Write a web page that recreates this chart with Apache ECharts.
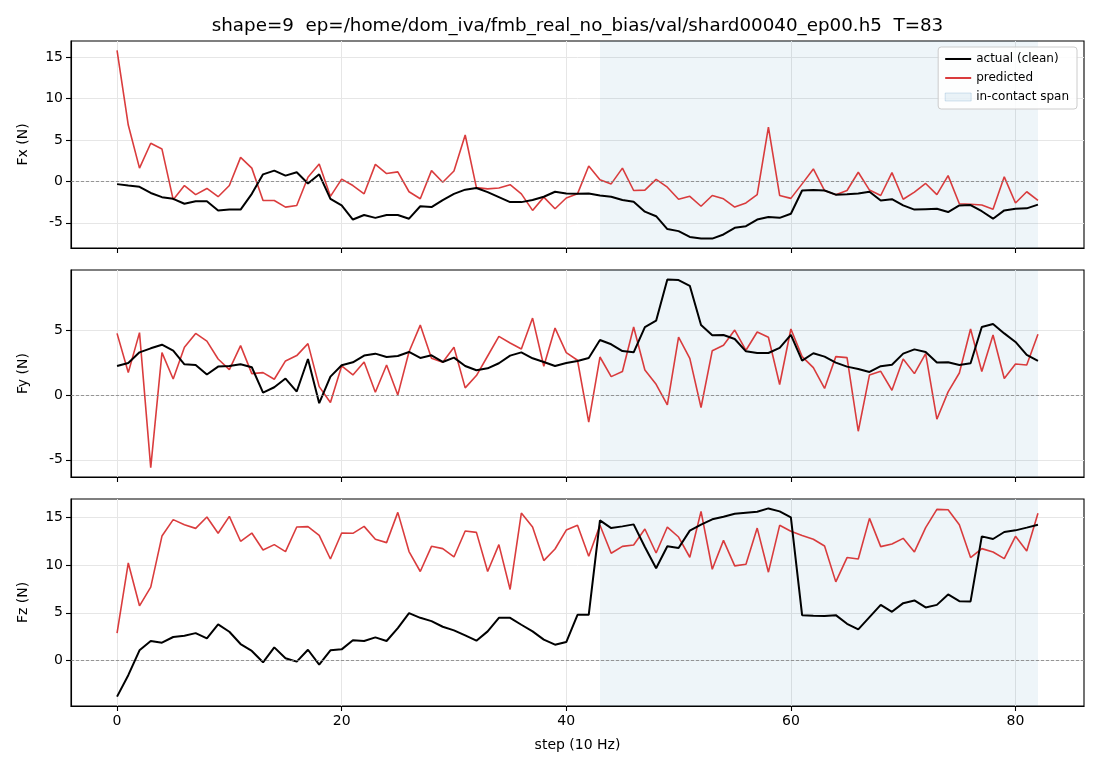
<!DOCTYPE html>
<html><head><meta charset="utf-8">
<script src="https://cdn.jsdelivr.net/npm/echarts@6/dist/echarts.min.js"></script>
<style>html,body{margin:0;padding:0;background:#fff}#c{width:1100px;height:770px}</style>
</head><body><div id="c"></div>
<script>
const titleText = 'shape=9  ep=/home/dom_iva/fmb_real_no_bias/val/shard00040_ep00.h5  T=83';
const panelLabels = ['Fx (N)', 'Fy (N)', 'Fz (N)'];
const xLabel = 'step (10 Hz)';
const xTicks = [0, 20, 40, 60, 80];
const yTicks = [[-5, 0, 5, 10, 15], [-5, 0, 5], [0, 5, 10, 15]];
const contactSpan = [43, 82];

const fxActual = [-0.33,-0.5,-0.65,-1.4,-1.9,-2.1,-2.7,-2.4,-2.4,-3.5,-3.4,-3.4,-1.5,0.85,1.3,0.7,1.1,-0.25,0.85,-2.1,
  -2.9,-4.6,-4.05,-4.4,-4.05,-4.05,-4.5,-3.0,-3.1,-2.25,-1.5,-1.0,-0.8,-1.3,-1.9,-2.5,-2.5,-2.25,-1.85,-1.25,
  -1.45,-1.5,-1.45,-1.7,-1.85,-2.25,-2.45,-3.65,-4.2,-5.75,-6.0,-6.7,-6.9,-6.9,-6.4,-5.6,-5.4,-4.6,-4.3,-4.4,
  -3.9,-1.1,-1.05,-1.1,-1.6,-1.55,-1.45,-1.25,-2.3,-2.15,-2.9,-3.4,-3.35,-3.3,-3.7,-2.9,-2.85,-3.6,-4.5,-3.5,
  -3.3,-3.25,-2.8];
const fxPred = [15.8,6.8,1.6,4.6,3.9,-2.2,-0.5,-1.6,-0.85,-1.85,-0.5,2.9,1.6,-2.3,-2.3,-3.1,-2.9,0.5,2.1,-1.8,
  0.28,-0.5,-1.5,2.05,0.95,1.15,-1.25,-2.1,1.3,-0.1,1.25,5.6,-0.75,-0.9,-0.8,-0.4,-1.5,-3.5,-1.9,-3.3,
  -2.0,-1.5,1.85,0.2,-0.3,1.6,-1.1,-1.05,0.25,-0.7,-2.15,-1.8,-3.0,-1.7,-2.1,-3.1,-2.6,-1.6,6.55,-1.7,
  -2.05,-0.3,1.5,-1.1,-1.6,-1.1,1.1,-1.05,-1.7,1.05,-2.15,-1.3,-0.25,-1.6,0.7,-2.7,-2.75,-2.85,-3.35,0.55,
  -2.6,-1.25,-2.3];
const fyActual = [2.23,2.46,3.28,3.59,3.87,3.41,2.36,2.31,1.57,2.18,2.23,2.36,2.13,0.18,0.59,1.26,0.26,2.77,-0.64,1.41,
  2.28,2.51,3.03,3.18,2.92,3.0,3.31,2.85,3.05,2.54,2.87,2.23,1.9,2.05,2.44,3.03,3.28,2.82,2.54,2.23,
  2.46,2.62,2.85,4.23,3.9,3.38,3.28,5.23,5.72,8.9,8.85,8.41,5.38,4.59,4.62,4.31,3.36,3.23,3.23,3.62,
  4.62,2.64,3.21,2.95,2.49,2.18,2.0,1.77,2.21,2.33,3.18,3.51,3.31,2.49,2.51,2.31,2.44,5.23,5.46,4.74,
  4.08,3.08,2.62];
const fyPred = [4.74,1.72,4.8,-5.6,3.26,1.23,3.67,4.74,4.15,2.77,1.95,3.8,1.64,1.72,1.21,2.62,3.03,3.95,0.64,-0.59,
  2.23,1.54,2.54,0.21,2.31,0.0,3.33,5.38,2.82,2.51,3.67,0.54,1.49,3.0,4.51,4.0,3.54,5.92,2.21,5.15,
  3.26,2.67,-2.1,2.92,1.41,1.8,5.23,1.92,0.82,-0.77,4.46,2.82,-0.97,3.41,3.82,5.0,3.44,4.85,4.44,0.8,
  5.08,2.95,2.1,0.5,2.95,2.87,-2.8,1.54,1.82,0.36,2.77,1.64,3.18,-1.87,0.23,1.69,5.08,1.8,4.62,1.26,
  2.38,2.31,4.67];
const fzActual = [-3.82,-1.57,1.05,2.03,1.85,2.45,2.58,2.86,2.31,3.78,3.0,1.71,0.98,-0.21,1.36,0.21,-0.14,1.11,-0.46,1.05,
  1.15,2.1,2.03,2.41,2.03,3.39,4.96,4.47,4.12,3.53,3.15,2.62,2.06,3.04,4.47,4.47,3.74,3.04,2.17,1.64,
  1.92,4.79,4.79,14.72,13.91,14.09,14.3,11.92,9.69,12.0,11.82,13.64,14.27,14.83,15.11,15.42,15.53,15.63,15.98,15.67,
  15.04,4.75,4.68,4.65,4.75,3.84,3.25,4.54,5.83,5.1,6.01,6.3,5.56,5.83,6.93,6.22,6.19,13.04,12.76,13.5,
  13.67,13.96,14.27];
const fzPred = [2.86,10.24,5.73,7.69,13.07,14.8,14.27,13.88,15.07,13.36,15.14,12.52,13.39,11.6,12.17,11.44,14.02,14.06,13.15,10.66,
  13.39,13.36,14.09,12.73,12.38,15.56,11.44,9.34,11.99,11.75,10.87,13.6,13.46,9.34,12.17,7.45,15.49,14.02,10.49,11.71,
  13.7,14.2,10.94,14.2,11.26,11.99,12.13,13.81,11.29,14.02,12.97,10.84,15.67,9.58,12.62,9.93,10.1,13.91,9.27,14.2,
  13.57,13.12,12.73,12.03,8.25,10.81,10.66,14.93,11.96,12.24,12.83,11.4,13.96,15.88,15.84,14.27,10.81,11.75,11.4,10.7,
  13.04,11.5,15.46];

const actuals = [fxActual, fyActual, fzActual];
const preds = [fxPred, fyPred, fzPred];

const FONT = 'DejaVu Sans';
const gridTops = [41, 270, 499];
const gridH = 207;
const n = fxActual.length;
const xMin = -0.05 * (n - 1), xMax = (n - 1) * 1.05;

function lim(a, b) {
  const all = a.concat(b);
  const lo = Math.min(...all), hi = Math.max(...all);
  const m = (hi - lo) * 0.05;
  return [lo - m, hi + m];
}
const pts = arr => arr.map((v, i) => [i, v]);

const grids = [], xAxes = [], yAxes = [], series = [];
for (let k = 0; k < 3; k++) {
  grids.push({left: 71, width: 1013, top: gridTops[k], height: gridH, show: true,
    borderColor: '#000', borderWidth: 1.1, backgroundColor: 'transparent', containLabel: false});
  const last = k === 2;
  xAxes.push({type: 'value', gridIndex: k, min: xMin, max: xMax,
    axisLine: {show: true, onZero: false, lineStyle: {color: '#000', width: 1.1}},
    axisTick: {show: true, length: 5, inside: false, customValues: xTicks, lineStyle: {color: '#000', width: 1.1}},
    axisLabel: {show: last, customValues: xTicks, color: '#000', fontFamily: FONT, fontSize: 14, margin: 8},
    splitLine: {show: true, lineStyle: {color: '#e6e6e6', width: 1}},
    name: last ? xLabel : '', nameLocation: 'middle', nameGap: 32,
    nameTextStyle: {color: '#000', fontFamily: FONT, fontSize: 14}});
  const [lo, hi] = lim(actuals[k], preds[k]);
  yAxes.push({type: 'value', gridIndex: k, min: lo, max: hi,
    axisLine: {show: true, onZero: false, lineStyle: {color: '#000', width: 1.1}},
    axisTick: {show: true, length: 5, inside: false, customValues: yTicks[k], lineStyle: {color: '#000', width: 1.1}},
    axisLabel: {show: true, customValues: yTicks[k], color: '#000', fontFamily: FONT, fontSize: 14, margin: 8},
    splitLine: {show: true, lineStyle: {color: '#e6e6e6', width: 1}},
    name: panelLabels[k], nameLocation: 'middle', nameGap: 41, nameRotate: 90,
    nameTextStyle: {color: '#000', fontFamily: FONT, fontSize: 14}});
  series.push({type: 'line', name: 'in-contact span', xAxisIndex: k, yAxisIndex: k, data: [],
    color: 'rgba(31,119,180,0.10)', z: 1, silent: true,
    markArea: {silent: true, itemStyle: {color: 'rgba(31,119,180,0.075)'},
      data: [[{xAxis: contactSpan[0]}, {xAxis: contactSpan[1]}]]},
    markLine: {silent: true, symbol: 'none', label: {show: false},
      lineStyle: {color: '#808080', width: 0.8, type: [3, 2]}, data: [{yAxis: 0}]}});
  series.push({type: 'line', name: 'actual (clean)', xAxisIndex: k, yAxisIndex: k, data: pts(actuals[k]),
    symbol: 'none', color: '#000', lineStyle: {color: '#000', width: 2}, z: 4, animation: false});
  series.push({type: 'line', name: 'predicted', xAxisIndex: k, yAxisIndex: k, data: pts(preds[k]),
    symbol: 'none', color: '#d62728', lineStyle: {color: '#d62728', width: 1.6, opacity: 0.9}, z: 3, animation: false});
}

const chart = echarts.init(document.getElementById('c'), null, {renderer: 'canvas'});
chart.setOption({
  animation: false,
  backgroundColor: '#fff',
  textStyle: {fontFamily: FONT},
  graphic: [{type: 'text', x: 577.5, y: 26,
    style: {text: titleText, align: 'center', verticalAlign: 'middle',
      font: '18.3px "DejaVu Sans"', fill: '#000'}}],
  legend: {orient: 'vertical', right: 23, top: 47, itemWidth: 26, itemHeight: 8, itemGap: 7,
    padding: [6, 8, 6, 6], backgroundColor: 'rgba(255,255,255,0.85)', borderColor: '#cccccc',
    borderWidth: 1, borderRadius: 3, selectedMode: false,
    textStyle: {fontFamily: FONT, fontSize: 12, color: '#000'},
    data: [{name: 'actual (clean)', itemStyle: {opacity: 0}}, {name: 'predicted', itemStyle: {opacity: 0}},
      {name: 'in-contact span', icon: 'rect',
        itemStyle: {color: 'rgba(31,119,180,0.09)', borderColor: 'rgba(31,119,180,0.18)', borderWidth: 1}}]},
  grid: grids, xAxis: xAxes, yAxis: yAxes, series: series
});
</script></body></html>
